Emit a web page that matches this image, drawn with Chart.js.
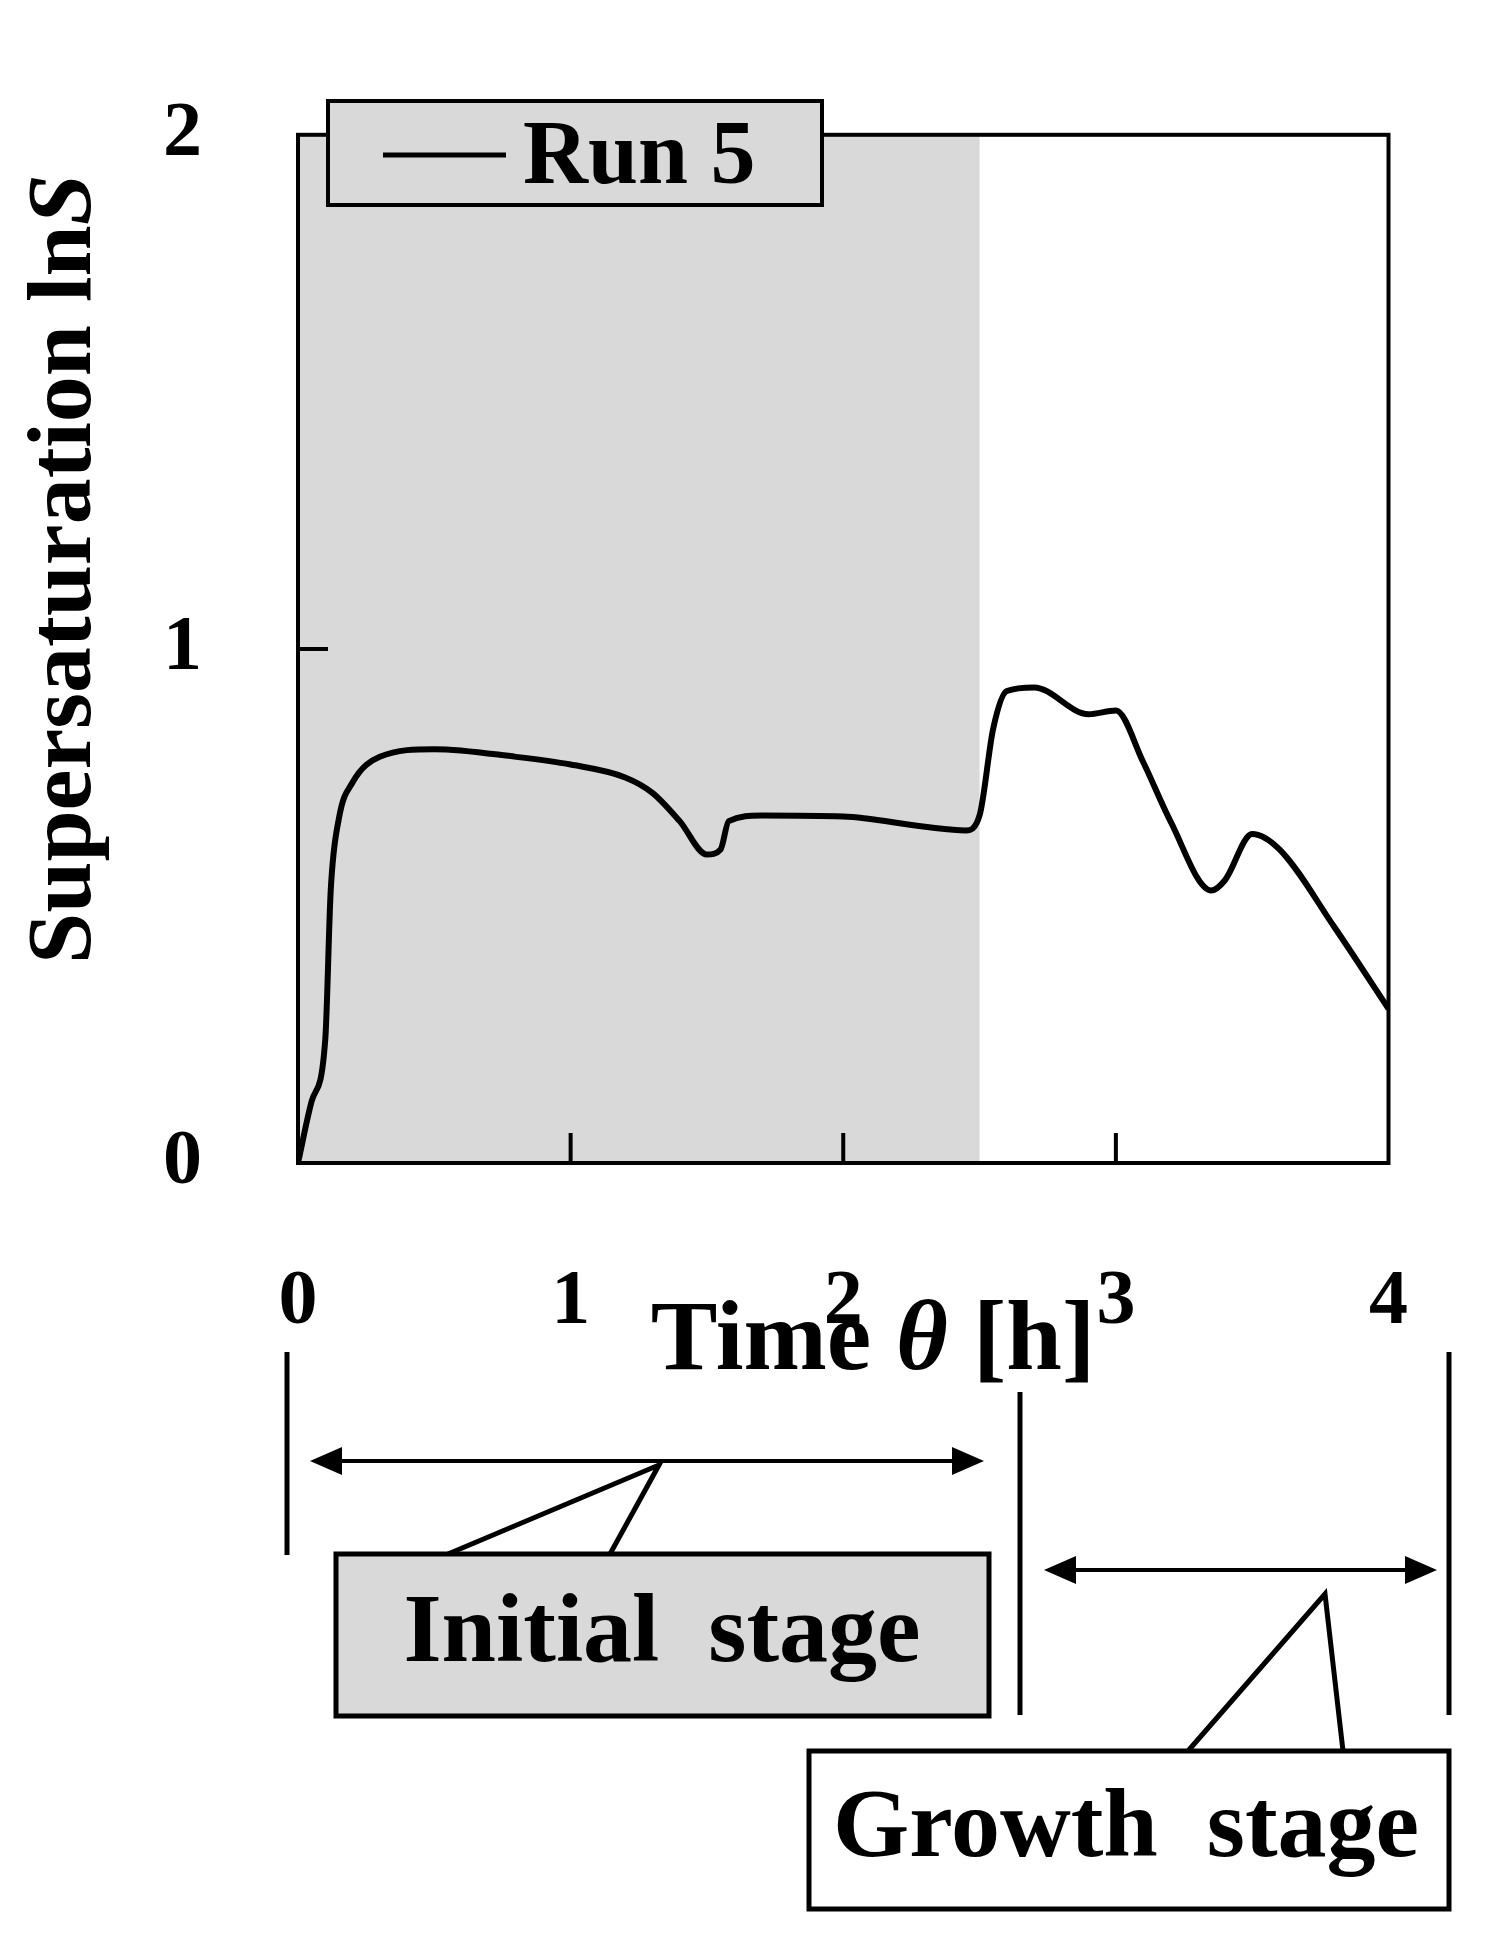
<!DOCTYPE html><html><head><style>body{margin:0;background:#fff}canvas{display:block}</style>
<script src="https://cdn.jsdelivr.net/npm/chart.js@4"></script></head><body>
<div style="width:1493px;height:1943px"><canvas id="c"></canvas></div>
<script>
const timeH=[0,0.05,0.1,0.12,0.15,0.2,0.3,0.5,0.8,1.0,1.2,1.3,1.4,1.5,1.55,1.58,1.7,2.0,2.3,2.45,2.5,2.55,2.6,2.7,2.9,3.0,3.1,3.2,3.35,3.4,3.5,3.6,3.8,4.0];
const lnS=[0,0.12,0.24,0.53,0.67,0.74,0.79,0.805,0.79,0.775,0.75,0.72,0.665,0.6,0.61,0.665,0.676,0.674,0.654,0.647,0.676,0.845,0.918,0.925,0.873,0.88,0.78,0.665,0.53,0.55,0.64,0.61,0.46,0.30];
const xTicks=[0,1,2,3,4];
const yTicks=[0,1,2];
const initialEnd=2.5;
const F='"Liberation Serif", serif';
const deco={id:'deco',
beforeDatasetsDraw(c){const {ctx,chartArea:a,scales:{x,y}}=c;ctx.save();ctx.fillStyle='#d9d9d9';ctx.fillRect(x.getPixelForValue(0),a.top,x.getPixelForValue(initialEnd)-x.getPixelForValue(0),a.bottom-a.top);ctx.restore();},
afterDraw(c){const {ctx,chartArea:a,scales:{x,y}}=c;ctx.save();
ctx.strokeStyle='#000';ctx.lineWidth=4;ctx.strokeRect(a.left,a.top,a.right-a.left,a.bottom-a.top);
ctx.beginPath();[1,2,3].forEach(v=>{const px=x.getPixelForValue(v);ctx.moveTo(px,a.bottom);ctx.lineTo(px,a.bottom-30);});
const p1=y.getPixelForValue(1);ctx.moveTo(a.left,p1);ctx.lineTo(a.left+30,p1);ctx.stroke();
// legend
ctx.fillStyle='#d9d9d9';ctx.fillRect(328,101,494,104);ctx.strokeRect(328,101,494,104);
ctx.lineWidth=5;ctx.beginPath();ctx.moveTo(383,155);ctx.lineTo(506,155);ctx.stroke();
ctx.fillStyle='#000';ctx.font='bold 90px '+F;ctx.textBaseline='middle';ctx.textAlign='left';ctx.fillText('Run 5',523,160);
// y title
ctx.save();ctx.translate(66,569);ctx.rotate(-Math.PI/2);ctx.font='bold 92px '+F;
const t1='Supersaturation ln';const w1=ctx.measureText(t1).width;ctx.font='italic bold 92px '+F;const w2=ctx.measureText('S').width;
ctx.font='bold 92px '+F;ctx.textAlign='left';ctx.fillText(t1,-(w1+w2)/2,0);ctx.font='italic bold 92px '+F;ctx.fillText('S',-(w1+w2)/2+w1,0);ctx.restore();
// x title
ctx.textAlign='left';ctx.font='bold 100px '+F;const a1='Time ',b1='θ',c1=' [h]';
const wa=ctx.measureText(a1).width,wc=ctx.measureText(c1).width;ctx.font='italic bold 100px '+F;const wb=ctx.measureText(b1).width;
let sx=873-(wa+wb+wc)/2;ctx.font='bold 100px '+F;ctx.fillText(a1,sx,1343);ctx.font='italic bold 100px '+F;ctx.fillText(b1,sx+wa,1343);ctx.font='bold 100px '+F;ctx.fillText(c1,sx+wa+wb,1343);
// stage annotations
ctx.lineWidth=5;ctx.beginPath();
ctx.moveTo(287,1352);ctx.lineTo(287,1555);ctx.moveTo(1020,1392);ctx.lineTo(1020,1715);ctx.moveTo(1449,1352);ctx.lineTo(1449,1715);ctx.stroke();
function arrow(x1,x2,yy){ctx.lineWidth=4;ctx.beginPath();ctx.moveTo(x1+20,yy);ctx.lineTo(x2-20,yy);ctx.stroke();
ctx.beginPath();ctx.moveTo(x1,yy);ctx.lineTo(x1+32,yy-14);ctx.lineTo(x1+32,yy+14);ctx.closePath();ctx.fill();
ctx.beginPath();ctx.moveTo(x2,yy);ctx.lineTo(x2-32,yy-14);ctx.lineTo(x2-32,yy+14);ctx.closePath();ctx.fill();}
arrow(310,984,1461);arrow(1044,1437,1570);
ctx.lineWidth=5;
ctx.fillStyle='#d9d9d9';ctx.fillRect(336,1554,653,162);ctx.strokeRect(336,1554,653,162);
ctx.beginPath();ctx.moveTo(448,1554);ctx.lineTo(659,1465);ctx.lineTo(610,1554);ctx.stroke();
ctx.fillStyle='#fff';ctx.fillRect(809,1751,640,158);ctx.strokeRect(809,1751,640,158);
ctx.beginPath();ctx.moveTo(1188,1751);ctx.lineTo(1325,1594);ctx.lineTo(1343,1751);ctx.stroke();
ctx.fillStyle='#000';ctx.font='bold 98px '+F;ctx.textAlign='center';ctx.textBaseline='middle';
ctx.fillText('Initial  stage',662,1636);ctx.fillText('Growth  stage',1126,1831);
ctx.restore();}};
new Chart(document.getElementById('c'),{type:'line',
data:{datasets:[{data:timeH.map((t,i)=>({x:t,y:lnS[i]})),borderColor:'#000',borderWidth:6,pointRadius:0,tension:0.4,cubicInterpolationMode:'monotone',fill:false}]},
options:{responsive:true,maintainAspectRatio:false,animation:false,
layout:{padding:{left:0,top:-13,right:41,bottom:0}},
plugins:{legend:{display:false},tooltip:{enabled:false}},
scales:{
x:{type:'linear',min:0,max:4,afterBuildTicks:s=>{s.ticks=xTicks.map(v=>({value:v}));},afterFit:s=>{s.height=780;},
grid:{display:false},border:{display:false},ticks:{padding:85,color:'#000',font:{family:F,weight:'bold',size:78}}},
y:{min:0,max:2,afterBuildTicks:s=>{s.ticks=yTicks.map(v=>({value:v}));},afterFit:s=>{s.width=298;},
grid:{display:false},border:{display:false},ticks:{padding:88,color:'#000',font:{family:F,weight:'bold',size:78}}}}},
plugins:[deco]});
</script></body></html>
